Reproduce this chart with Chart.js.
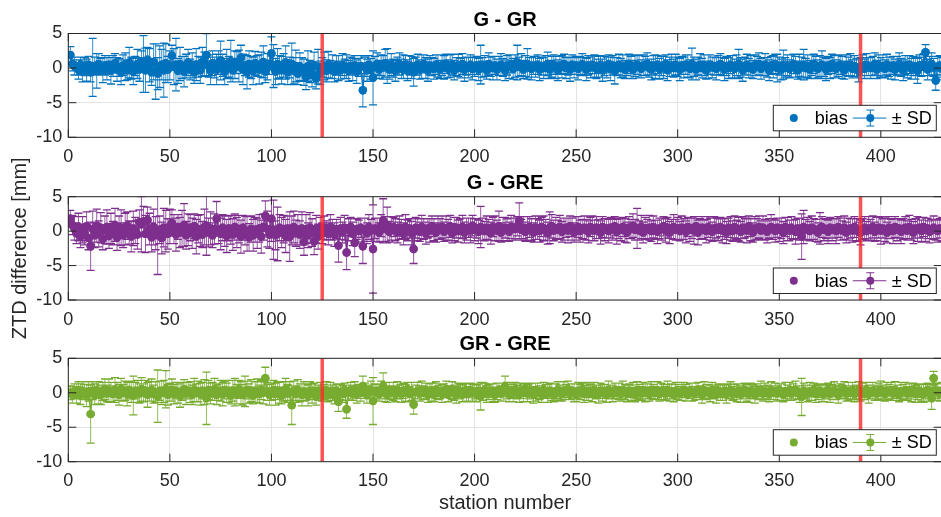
<!DOCTYPE html>
<html>
<head>
<meta charset="utf-8">
<script src="https://cdn.jsdelivr.net/npm/chart.js@4.4.0/dist/chart.umd.min.js"></script>
<style>
  html, body { margin: 0; padding: 0; background: #fff; width: 941px; height: 517px; overflow: hidden; }
  #wrap { position: relative; width: 946px; height: 517px; }
  #wrap canvas { position: absolute; left: 0; top: 0; }
</style>
</head>
<body>
<div id="wrap">
  <canvas id="c1" width="946" height="517"></canvas>
  <canvas id="c2" width="946" height="517"></canvas>
  <canvas id="c3" width="946" height="517"></canvas>
</div>
<script>
// station numbers where the red separators are
const splitStations = [125, 390];

// G - GR : bias and SD per station [mm]
const grBias = [
  1.9, 0.6, 0.3, 0.1, -0.2, 0.4, -0.5, 0.2, -0.3, 0.5, -0.6, 0.1, 0.3, -0.4, 0.6, 0.2, -0.3, 0.4, -0.1, 0.5,
  -0.4, 0.3, 0.7, -0.2, 0.1, -0.6, 0.4, 0.2, -0.3, 0.8, 0.0, -0.5, 0.3, 0.6, -0.2, 1.0, 0.6, -0.3, 1.2, 0.4,
  -0.6, 0.9, -0.5, -0.8, 0.2, 0.5, -0.3, 0.7, -0.2, 0.4, 1.8, 0.2, 0.5, -0.4, 0.6, 0.1, -0.5, 0.3, 0.8, -0.2,
  0.4, -0.6, 0.5, 0.2, -0.3, 0.9, 0.6, 1.9, 0.3, -0.4, 0.7, 0.1, -0.2, 0.8, 1.1, 0.4, -0.5, 0.6, 0.2, 1.0,
  -0.3, 0.5, 0.8, 0.3, 1.5, -0.2, 0.4, -0.6, 0.6, 0.1, -0.4, 0.7, 0.3, -0.2, 0.5, 0.9, -0.5, 0.2, 0.6, 2.1,
  0.3, -0.5, 0.6, 0.2, -0.3, 0.4, 0.8, -0.6, 0.1, 0.6, -0.4, 0.3, -0.8, 0.2, -0.2, -0.6, -1.3, 0.3, -0.5, -0.9,
  0.4, -1.5, 0.2, -0.7, 0.1, 0.3, -0.4, 0.5, -0.2, 0.2, -0.5, 0.4, 0.0, -0.3, 0.5, -0.1, 0.2, -0.4, 0.3, -0.2,
  0.4, -0.5, 0.1, 0.3, -3.2, 0.2, -0.3, 0.5, -0.1, -1.4, 0.3, 0.6, -0.2, 0.4, 0.1, 0.7, 0.3, -0.2, 0.5, 0.0,
  -0.4, 0.3, 0.6, -0.1, 0.2, 0.5, -0.3, 0.4, 0.1, -0.6, 0.3, 0.5, -0.2, 0.2, 0.6, 0.0, -0.3, 0.4, 0.2, -0.1,
  0.5, 0.3, -0.2, 0.4, 0.1, 0.6, -0.1, 0.3, 0.5, -0.3, 0.2, 0.4, 0.0, 0.6, -0.2, 0.3, 0.1, 0.5, -0.1, 0.2,
  0.4, -0.2, 0.5, 0.1, 0.3, -0.3, 0.6, 0.2, 0.0, 0.4, -0.2, 0.3, 0.5, 0.1, -0.3, 0.4, 0.2, 0.6, -0.1, 0.3,
  0.8, 0.2, 0.5, -0.2, 0.3, 0.6, 0.1, -0.1, 0.4, 0.2, 0.5, -0.2, 0.3, 0.0, 0.4, 0.6, -0.2, 0.2, 0.5, 0.1,
  -0.3, 0.4, 0.2, 0.6, 0.0, 0.3, -0.2, 0.5, 0.1, 0.4, -0.1, 0.3, 0.6, 0.2, -0.2, 0.4, 0.1, 0.5, 0.3, -0.1,
  0.2, 0.5, -0.3, 0.3, 0.1, 0.6, -0.1, 0.4, -0.4, 0.2, 0.5, 0.0, 0.3, -0.2, 0.4, 0.6, 0.1, -0.2, 0.3, 0.5,
  0.2, -0.1, 0.4, 0.3, 0.6, 0.0, -0.2, 0.4, 0.2, 0.5, -0.1, 0.3, 0.1, 0.6, -0.3, 0.2, 0.4, 0.0, 0.5, 0.2,
  -0.2, 0.4, 0.1, 0.5, 0.3, -0.1, 0.6, 0.2, -0.2, 0.3, 0.5, 0.0, 0.4, -0.3, 0.2, 0.5, 0.1, 0.3, -0.1, 0.4,
  0.6, 0.2, -0.2, 0.3, 0.0, 0.5, 0.2, -0.1, 0.4, 0.6, 0.1, -0.3, 0.3, 0.5, 0.0, 0.2, -0.2, 0.4, 0.3, 0.6,
  -0.1, 0.2, 0.5, 0.1, -0.3, 0.4, 0.2, 0.6, 0.0, 0.3, -0.2, 0.5, 0.1, 0.4, -0.1, 0.3, 0.6, 0.2, -0.3, 0.4,
  0.1, 0.5, 0.0, 0.3, -0.2, 0.4, 0.6, 0.1, -0.1, 0.3, 0.5, 0.2, -0.2, 0.4, 0.0, 0.6, 0.2, -0.1, 0.3, 0.5,
  0.1, -0.3, 0.4, 0.2, 0.5, -0.1, 0.3, 0.0, -0.4, 0.2, 0.4, -0.1, 0.5, 0.2, 0.0, 0.3, 0.6, -0.2, 0.4, 0.1,
  0.3, -0.1, 0.5, 0.2, 0.0, 0.4, -0.2, 0.3, 0.6, 0.1, -0.3, 0.4, 0.2, 0.5, -0.1, 0.3, 0.0, -0.4, 0.4, 0.2,
  0.5, 2.3, -0.2, 0.3, 0.6, 0.1, -1.8, 0.2, 0.4, -0.1
];
const grSd = [
  1.2, 1.0, 1.3, 1.1, 1.4, 1.2, 1.5, 1.3, 1.6, 1.2, 1.4, 4.2, 1.3, 2.5, 1.5, 1.2, 1.8, 1.4, 1.6, 1.3,
  1.9, 1.5, 1.4, 1.7, 1.3, 1.8, 1.5, 2.0, 1.4, 2.2, 1.6, 1.9, 1.4, 2.1, 1.7, 1.5, 4.1, 3.2, 1.8, 2.4,
  1.9, 2.6, 4.0, 2.3, 3.0, 2.2, 3.9, 2.8, 1.9, 2.1, 1.5, 2.6, 3.8, 1.8, 2.4, 1.6, 2.2, 1.7, 1.9, 1.5,
  1.8, 1.6, 2.3, 1.5, 1.9, 2.1, 1.7, 3.1, 1.6, 2.0, 1.8, 1.5, 2.2, 1.7, 2.8, 1.6, 1.9, 2.1, 1.5, 3.0,
  1.7, 2.0, 1.6, 2.3, 1.8, 2.2, 1.5, 2.4, 1.9, 1.6, 2.0, 1.7, 1.5, 2.1, 1.8, 2.3, 1.6, 1.9, 1.5, 2.4,
  3.1, 1.9, 2.2, 1.6, 2.0, 1.7, 2.4, 1.8, 1.5, 3.0, 1.9, 2.3, 1.6, 2.0, 1.7, 1.9, 1.8, 2.2, 1.6, 1.8,
  1.9, 1.5, 2.5, 1.7, 1.4, 2.0, 1.6, 1.9, 1.3, 1.7, 1.5, 1.4, 1.8, 1.3, 1.6, 1.4, 1.7, 1.5, 1.3, 1.6,
  1.4, 1.7, 1.3, 1.5, 2.4, 1.4, 1.6, 1.3, 1.5, 3.9, 1.4, 1.6, 1.3, 1.5, 1.7, 2.0, 2.5, 1.4, 1.6, 1.3,
  1.5, 1.3, 1.6, 1.4, 1.7, 1.3, 1.5, 1.4, 1.6, 2.0, 1.3, 1.5, 1.4, 1.7, 1.3, 1.5, 1.6, 1.4, 1.3, 1.5,
  1.4, 1.6, 1.3, 1.5, 1.7, 1.4, 1.3, 1.6, 1.5, 1.4, 1.3, 1.6, 1.4, 1.5, 1.7, 1.3, 1.5, 1.4, 1.6, 1.4,
  1.3, 1.6, 2.8, 1.4, 1.5, 1.3, 1.6, 1.4, 1.7, 1.3, 1.5, 1.4, 1.6, 1.3, 1.5, 1.4, 1.7, 1.3, 1.5, 1.6,
  2.5, 1.4, 1.6, 1.3, 1.5, 2.2, 1.4, 1.6, 1.3, 1.5, 1.4, 1.6, 1.3, 1.5, 1.4, 1.7, 1.3, 1.5, 1.4, 1.6,
  1.5, 1.3, 1.6, 1.4, 1.5, 1.3, 1.7, 1.4, 1.5, 1.3, 1.6, 1.4, 1.5, 1.3, 1.6, 1.4, 1.5, 1.3, 1.6, 1.4,
  1.5, 1.3, 1.6, 1.4, 1.5, 1.3, 1.7, 1.4, 1.9, 1.3, 1.5, 1.4, 1.6, 1.3, 1.5, 1.4, 1.6, 1.3, 1.5, 1.4,
  1.6, 1.3, 1.5, 1.4, 1.6, 1.3, 1.5, 1.4, 1.7, 1.3, 1.5, 1.4, 1.6, 1.3, 1.5, 1.4, 1.6, 1.3, 1.5, 1.4,
  1.6, 1.3, 1.5, 1.4, 1.6, 1.3, 2.3, 1.4, 1.5, 1.3, 1.6, 1.4, 1.5, 1.3, 1.7, 1.4, 1.5, 1.3, 1.6, 1.4,
  1.5, 1.3, 1.6, 1.4, 1.5, 1.3, 1.6, 1.4, 1.5, 2.1, 1.4, 1.6, 1.3, 1.5, 1.4, 1.6, 1.3, 1.5, 1.4, 1.6,
  1.5, 1.3, 1.6, 1.4, 1.5, 1.3, 1.6, 1.4, 2.0, 1.3, 1.5, 2.1, 1.4, 1.5, 1.3, 1.6, 1.4, 1.5, 1.3, 1.6,
  1.5, 2.2, 1.4, 1.6, 1.3, 1.5, 1.4, 1.6, 1.3, 1.5, 2.0, 1.4, 1.6, 1.3, 1.5, 1.4, 1.6, 1.3, 1.5, 1.4,
  1.6, 1.3, 1.5, 1.4, 1.6, 1.3, 1.5, 1.4, 1.6, 1.3, 1.5, 1.4, 1.6, 1.3, 1.5, 1.4, 1.6, 1.3, 1.5, 1.4,
  1.6, 1.3, 1.5, 1.4, 1.6, 1.3, 1.5, 1.4, 1.6, 1.3, 1.5, 1.4, 1.6, 1.3, 1.5, 1.4, 1.6, 1.8, 1.5, 1.4,
  1.6, 1.1, 1.5, 1.4, 1.6, 1.3, 1.4, 1.5, 1.4, 1.6
];

// G - GRE
const greBias = [
  1.8, 0.9, 0.4, -0.3, 0.6, -0.8, 0.2, -0.5, 0.7, -1.0, -2.2, 0.3, -0.6, 0.8, -0.4, 0.5, -1.1, 0.2, 0.6, -0.7,
  0.4, -0.3, 0.9, -0.9, 0.1, 0.5, -0.6, 0.3, 0.8, -0.2, -0.8, 0.4, 0.1, -0.5, 1.3, 1.0, 1.4, -0.4, 1.6, 0.3,
  -0.9, 0.6, -0.3, -0.6, 0.2, -1.0, 0.5, 0.0, -0.4, 0.7, 1.2, 0.3, -0.5, 0.6, -0.2, 0.4, 0.9, -0.6, 0.2, 0.5,
  -0.3, 0.7, -0.8, 0.3, 0.1, -0.5, 0.6, 0.8, -0.2, 0.4, -0.6, 0.3, 1.8, 0.2, -0.4, 0.5, 0.0, -0.7, 0.4, 0.2,
  -0.5, 0.6, -0.2, 0.3, -0.8, 0.5, 0.1, -0.4, -0.9, 0.3, -0.6, 0.2, -0.3, 0.4, -0.8, 0.6, 2.2, 0.3, -0.5, 1.8,
  0.2, -0.6, -0.4, 0.5, -0.2, 0.3, -0.7, 0.4, -0.8, 0.1, 0.6, -0.3, 0.2, -0.5, 0.4, -1.6, 0.3, -0.6, 0.5, -0.2,
  -1.5, 0.3, -0.8, 0.4, -0.3, 0.5, 0.1, -0.4, 0.6, 0.2, -0.5, 0.3, -2.1, 0.4, -0.2, 0.5, -3.1, 0.2, 0.6, -0.4,
  -1.7, 0.3, 0.0, 0.5, -2.2, 0.2, -0.3, 0.6, 0.1, -2.6, 0.4, 0.2, -0.2, 0.8, 1.5, 0.3, 0.9, -0.1, 0.4, 0.6,
  0.2, -0.2, 0.5, 0.3, -0.4, 0.6, 0.1, 0.4, -0.3, -2.6, 0.5, 0.2, -0.1, 0.6, 0.3, -0.3, 0.4, 0.1, 0.7, 0.2,
  -0.2, 0.5, 0.3, 0.6, -0.1, 0.4, 0.2, 0.7, -0.3, 0.3, 0.5, 0.0, 0.4, 0.6, -0.2, 0.3, 0.5, 0.1, 0.8, 0.2,
  0.4, -0.1, 0.6, 0.3, 0.0, 0.5, 0.2, -0.3, 0.6, 0.4, 0.1, 0.7, -0.2, 0.3, 0.5, 0.2, -0.1, 0.6, 0.4, 0.3,
  0.7, 1.5, 0.2, 0.5, -0.1, 0.4, 0.6, 0.2, -0.2, 0.5, 0.3, 0.0, 0.6, 0.4, 0.2, -0.3, 0.5, 0.7, 0.1, 0.4,
  0.2, 0.6, -0.1, 0.3, 0.5, 0.1, 0.7, 0.3, -0.2, 0.4, 0.6, 0.0, 0.3, 0.5, 0.2, -0.1, 0.6, 0.4, 0.1, 0.5,
  0.3, -0.2, 0.6, 0.2, 0.4, 0.0, 0.5, 0.3, 0.7, -0.1, 0.4, 0.2, 0.6, 0.1, -0.2, 0.5, 0.3, 0.8, 0.2, 0.4,
  0.1, 0.6, -0.2, 0.4, 0.3, 0.5, 0.0, 0.6, 0.2, -0.1, 0.4, 0.3, 0.7, 0.1, 0.5, -0.2, 0.3, 0.6, 0.2, 0.4,
  0.0, 0.5, 0.3, -0.1, 0.6, 0.2, 0.4, 0.1, 0.7, -0.2, 0.3, 0.5, 0.2, 0.0, 0.6, 0.3, -0.1, 0.4, 0.5, 0.2,
  0.6, 0.1, 0.3, -0.2, 0.5, 0.4, 0.0, 0.6, 0.2, 0.3, -0.1, 0.5, 0.4, 0.1, 0.7, 0.2, -0.2, 0.4, 0.3, 0.6,
  0.1, 0.5, 0.2, -0.1, 0.4, 0.6, 0.3, 0.0, 0.5, 0.2, 0.4, -0.2, 0.6, 0.3, 0.1, 0.5, 0.2, -0.1, 0.4, 0.3,
  -0.8, 0.6, 0.2, 0.4, 0.0, 0.5, 0.3, 0.1, -0.2, 0.4, 0.6, 0.2, 0.3, -0.1, 0.5, 0.2, 0.4, 0.0, 0.6, 0.3,
  0.1, 0.5, -0.2, 0.3, 0.4, 0.1, 0.6, 0.2, -0.1, -0.2, 0.3, 0.5, 0.0, 0.4, 0.2, 0.6, -0.1, 0.3, 0.5, 0.1,
  0.4, 0.2, -0.2, 0.5, 0.3, 0.0, 0.6, 0.2, 0.4, -0.1, 0.3, 0.5, 0.1, 0.6, 0.2, -0.2, 0.4, 0.3, 0.5, 0.0,
  0.6, 0.2, 0.4, -0.1, 0.3, 0.5, 0.2, 0.0, 0.4, 0.3
];
const greSd = [
  1.2, 1.4, 1.7, 1.5, 2.0, 1.6, 1.9, 1.5, 2.1, 1.7, 3.5, 2.6, 1.8, 2.4, 1.9, 2.2, 1.6, 2.0, 2.5, 1.8,
  2.2, 1.7, 2.4, 1.9, 2.1, 2.6, 1.8, 2.3, 2.0, 1.7, 2.2, 2.5, 1.9, 2.1, 1.8, 4.0, 2.2, 2.7, 1.9, 2.3,
  2.1, 2.6, 2.4, 5.7, 2.0, 2.3, 2.8, 3.0, 2.2, 2.5, 1.9, 2.1, 2.4, 1.8, 2.2, 2.6, 3.1, 2.0, 2.3, 1.9,
  2.2, 1.8, 2.5, 2.0, 2.3, 1.9, 2.6, 4.3, 2.1, 2.4, 1.8, 2.2, 2.5, 2.0, 2.3, 1.9, 2.2, 2.4, 1.8, 2.1,
  2.3, 1.9, 2.2, 2.0, 2.4, 1.8, 2.1, 2.5, 2.0, 1.9, 2.3, 1.8, 2.2, 2.0, 2.4, 1.9, 2.2, 2.6, 2.0, 3.3,
  4.3, 2.1, 3.9, 1.9, 2.2, 2.0, 2.4, 1.8, 3.6, 2.1, 2.3, 1.9, 2.2, 2.0, 2.4, 1.9, 2.1, 1.8, 2.2, 2.0,
  1.9, 2.0, 1.8, 1.6, 1.5, 1.7, 1.4, 1.6, 1.8, 1.5, 1.7, 1.4, 2.4, 1.6, 1.5, 1.8, 2.5, 1.6, 1.4, 1.7,
  2.0, 1.5, 1.6, 1.4, 2.5, 1.7, 1.5, 1.8, 1.6, 6.4, 1.5, 1.7, 1.4, 1.6, 3.2, 1.8, 2.6, 1.5, 1.7, 1.4,
  1.6, 1.5, 1.7, 1.4, 1.6, 1.8, 1.5, 1.4, 1.7, 2.1, 1.5, 1.6, 1.4, 1.7, 1.5, 1.6, 1.4, 1.7, 1.5, 1.6,
  1.4, 1.7, 1.5, 1.6, 1.4, 1.8, 1.5, 1.6, 1.4, 1.7, 1.5, 1.6, 1.4, 1.7, 1.5, 1.6, 1.4, 1.8, 1.5, 1.6,
  1.4, 1.7, 3.0, 1.6, 1.4, 1.7, 1.5, 1.6, 1.4, 1.8, 1.5, 2.2, 1.4, 1.7, 1.5, 1.6, 1.4, 1.7, 1.5, 1.6,
  1.4, 2.6, 1.5, 1.6, 1.4, 1.7, 1.5, 1.6, 1.4, 1.7, 1.5, 1.6, 1.4, 1.8, 1.5, 1.6, 2.3, 1.7, 1.5, 1.6,
  1.4, 1.7, 1.5, 1.6, 1.4, 1.8, 1.5, 1.6, 1.4, 1.7, 1.5, 1.6, 1.4, 1.7, 1.5, 1.6, 1.4, 1.8, 1.5, 1.6,
  1.4, 1.7, 1.5, 1.6, 1.4, 1.7, 1.5, 1.6, 1.4, 1.8, 1.5, 1.6, 1.4, 1.7, 1.5, 1.6, 1.4, 1.7, 1.5, 2.9,
  1.4, 1.7, 1.5, 1.6, 1.4, 1.8, 1.5, 1.6, 1.4, 1.7, 1.5, 1.6, 1.4, 1.7, 1.5, 1.6, 1.4, 1.8, 1.5, 1.6,
  1.4, 1.7, 1.5, 1.6, 1.4, 1.7, 1.5, 2.0, 1.4, 1.8, 1.5, 1.6, 1.4, 1.7, 1.5, 1.6, 1.4, 1.7, 1.5, 1.6,
  1.4, 1.8, 1.5, 1.6, 1.4, 1.7, 1.5, 1.6, 1.4, 1.7, 1.5, 1.6, 1.4, 1.8, 1.5, 1.6, 1.4, 1.7, 1.5, 1.6,
  1.4, 1.7, 1.5, 1.6, 1.4, 1.8, 1.5, 1.6, 1.4, 1.7, 1.5, 1.6, 1.4, 1.7, 1.5, 1.6, 1.4, 1.8, 1.5, 1.6,
  3.3, 2.4, 1.5, 1.6, 1.4, 1.7, 1.5, 1.6, 1.4, 2.3, 1.5, 1.6, 1.4, 1.7, 1.5, 1.6, 1.4, 1.8, 1.5, 1.6,
  1.4, 1.7, 1.5, 1.6, 1.4, 1.7, 1.5, 1.6, 1.4, 1.8, 1.5, 1.6, 1.4, 1.7, 1.5, 1.6, 1.4, 1.7, 1.5, 2.0,
  1.4, 1.7, 1.5, 1.6, 1.4, 1.8, 1.5, 1.6, 1.4, 1.7, 1.5, 1.6, 1.4, 1.7, 1.5, 1.6, 1.4, 1.8, 1.5, 1.6,
  1.4, 1.7, 1.5, 1.6, 1.4, 1.7, 1.5, 1.6, 1.4, 1.7
];

// GR - GRE
const grgreBias = [
  0.0, -0.3, 0.2, -0.1, 0.4, -0.2, 0.3, 0.1, -0.4, 0.2, -3.1, 0.3, -0.2, 0.4, 0.0, -0.3, 0.2, 0.5, -0.1, 0.3,
  0.1, -0.2, 0.4, 0.2, -0.3, 0.5, 0.0, 0.3, -0.2, 0.4, 0.1, -0.4, 0.3, 0.2, -0.1, 0.5, 0.0, 0.3, -0.3, 0.2,
  0.4, -0.2, 0.1, -0.5, 0.3, 0.0, 0.2, 0.5, -0.3, 0.1, 0.4, -0.2, 0.3, 0.0, -0.4, 0.2, 0.5, -0.1, 0.3, 0.1,
  -0.3, 0.4, 0.0, 0.2, -0.2, 0.3, 0.1, -0.8, 0.4, -0.1, 0.2, 0.5, -0.3, 0.1, 0.3, -0.2, 0.4, 0.0, 0.2, -0.4,
  0.3, 0.1, -0.2, 0.5, 0.0, -0.3, 0.2, 0.4, -0.1, 0.3, -0.4, 0.1, 0.3, -0.2, 0.4, 0.0, 2.1, 0.2, -0.3, 0.1,
  0.4, -0.2, 0.3, 0.0, -0.4, 0.2, 0.5, -0.1, 0.1, -1.8, 0.3, -0.2, 0.4, 0.0, -0.3, 0.2, 0.1, -0.4, 0.3, -0.1,
  0.2, -0.5, 0.0, 0.3, -0.2, 0.1, 0.4, -0.3, 0.2, 0.0, -0.4, 0.3, -1.3, 0.1, -0.2, 0.4, -2.4, 0.0, 0.3, -0.1,
  0.5, -0.2, 0.2, 0.0, 1.0, 0.3, -0.3, 0.1, 0.4, -1.2, 0.2, 0.0, -0.2, 0.4, 1.0, 0.1, -0.3, 0.3, 0.0, 0.2,
  -0.2, 0.4, 0.1, -0.1, 0.3, 0.0, 0.5, -0.2, 0.2, -1.7, 0.1, 0.3, -0.1, 0.4, 0.0, 0.2, -0.3, 0.3, 0.1, -0.2,
  0.4, 0.0, 0.2, -0.1, 0.3, 0.5, -0.2, 0.1, 0.3, 0.0, -0.3, 0.4, 0.2, -0.1, 0.3, 0.1, -0.2, 0.4, 0.0, 0.2,
  -0.1, 0.3, -0.5, 0.2, 0.4, -0.2, 0.1, 0.3, 0.0, -0.3, 0.2, 0.4, -0.1, 0.1, 0.9, 0.3, -0.2, 0.2, 0.0, 0.4,
  0.1, -0.2, 0.3, 0.0, 0.5, -0.1, 0.2, 0.4, -0.3, 0.1, 0.3, 0.0, -0.2, 0.4, 0.2, -0.1, 0.3, 0.1, -0.3, 0.2,
  0.4, 0.0, -0.2, 0.3, 0.1, 0.5, -0.1, 0.2, 0.0, -0.3, 0.3, 0.1, 0.4, -0.2, 0.2, 0.0, 0.3, -0.1, 0.4, 0.1,
  -0.2, 0.3, 0.0, 0.2, -0.3, 0.4, 0.1, -0.1, 0.3, 0.0, 0.2, -0.2, 0.4, 0.1, -0.1, 0.3, 0.0, 0.2, -0.3, 0.4,
  0.1, -0.1, 0.3, 0.0, 0.2, -0.2, 0.4, 0.1, 0.0, 0.3, -0.2, 0.2, 0.1, -0.1, 0.4, 0.0, 0.2, -0.3, 0.3, 0.1,
  -0.1, 0.2, 0.4, 0.0, -0.2, 0.3, 0.1, -0.1, 0.2, 0.4, 0.0, -0.3, 0.3, 0.1, 0.2, -0.1, 0.4, 0.0, -0.2, 0.3,
  0.1, 0.0, 0.3, -0.2, 0.2, 0.4, -0.1, 0.1, 0.0, 0.3, -0.2, 0.2, 0.4, 0.0, -0.1, 0.3, 0.1, -0.3, 0.2, 0.0,
  0.4, -0.1, 0.2, 0.1, -0.2, 0.3, 0.0, 0.2, -0.1, 0.4, 0.1, -0.3, 0.2, 0.0, 0.3, -0.1, 0.2, 0.4, 0.0, -0.2,
  -0.6, 0.3, 0.1, -0.1, 0.2, 0.0, 0.4, -0.2, 0.1, 0.3, 0.0, -0.1, 0.2, 0.4, -0.2, 0.1, 0.3, 0.0, -0.3, 0.2,
  0.1, 0.4, -0.1, 0.2, 0.0, 0.3, -0.2, 0.1, 0.3, -0.1, 0.2, 0.0, 0.4, -0.2, 0.1, 0.3, 0.0, -0.1, 0.2, 0.4,
  0.0, -0.2, 0.3, 0.1, 0.2, -0.1, 0.4, 0.0, -0.3, 0.2, 0.1, 0.3, -0.1, 0.2, 0.0, 0.4, -0.2, 0.1, 0.3, 0.0,
  -0.1, 0.2, 0.4, 0.0, -0.8, 2.1, 0.3, 0.1, -0.2, 0.2
];
const grgreSd = [
  1.0, 1.2, 1.1, 1.4, 1.2, 1.5, 1.3, 1.1, 1.6, 1.4, 4.2, 1.3, 1.5, 1.2, 1.6, 1.4, 1.3, 1.5, 1.2, 1.7,
  1.4, 1.2, 1.8, 1.3, 1.5, 1.6, 1.2, 1.4, 1.7, 1.3, 1.5, 2.8, 1.2, 1.6, 1.4, 1.7, 1.3, 1.5, 1.8, 1.4,
  1.6, 1.3, 1.5, 3.8, 1.4, 1.7, 1.6, 2.7, 1.5, 1.3, 1.6, 1.4, 1.2, 1.5, 1.7, 1.3, 1.4, 1.6, 1.2, 1.5,
  1.4, 1.7, 1.3, 1.5, 1.6, 1.2, 1.8, 3.8, 1.4, 1.5, 1.3, 1.6, 1.4, 1.2, 1.5, 1.7, 1.3, 1.4, 1.6, 1.2,
  1.5, 2.0, 1.4, 1.3, 1.6, 1.5, 2.2, 1.3, 1.4, 1.6, 1.2, 1.5, 1.7, 1.3, 1.4, 1.6, 1.6, 1.3, 1.5, 1.2,
  1.4, 1.6, 1.3, 1.5, 1.2, 1.4, 1.6, 1.3, 1.5, 2.8, 1.4, 1.2, 1.5, 1.3, 1.6, 1.4, 1.2, 1.5, 1.3, 1.4,
  1.2, 1.3, 1.1, 1.2, 1.0, 1.1, 1.2, 1.0, 1.3, 1.1, 1.2, 1.0, 1.4, 1.1, 1.2, 1.0, 1.3, 1.1, 1.2, 1.0,
  1.1, 1.3, 1.0, 1.2, 1.4, 1.1, 1.2, 1.0, 1.3, 3.4, 1.1, 1.2, 1.0, 1.3, 1.9, 1.4, 1.1, 1.2, 1.0, 1.3,
  1.1, 1.2, 1.0, 1.3, 1.1, 1.2, 1.0, 1.1, 1.3, 1.4, 1.0, 1.2, 1.1, 1.3, 1.0, 1.2, 1.1, 1.0, 1.3, 1.1,
  1.2, 1.0, 1.1, 1.3, 1.0, 1.2, 1.1, 0.9, 1.3, 1.1, 1.2, 1.0, 1.1, 1.2, 1.0, 1.3, 1.1, 1.0, 1.2, 1.1,
  1.2, 1.0, 2.0, 1.3, 1.0, 1.2, 1.1, 1.0, 1.3, 1.1, 1.2, 1.0, 1.1, 1.3, 1.5, 1.2, 1.1, 1.0, 1.3, 1.1,
  1.0, 1.2, 1.1, 1.3, 0.9, 1.2, 1.1, 1.0, 1.2, 1.3, 1.1, 1.0, 1.2, 1.1, 1.0, 1.3, 1.1, 1.2, 1.0, 1.1,
  1.2, 1.1, 1.0, 1.3, 1.1, 1.2, 0.9, 1.1, 1.3, 1.0, 1.2, 1.1, 1.0, 1.2, 1.3, 1.1, 1.0, 1.2, 1.1, 1.0,
  1.3, 1.1, 1.2, 1.0, 1.1, 1.3, 1.0, 1.2, 1.1, 0.9, 1.2, 1.0, 1.3, 1.1, 1.2, 1.0, 1.1, 1.3, 1.0, 1.2,
  1.1, 1.0, 1.2, 1.3, 1.1, 1.0, 1.2, 1.1, 0.9, 1.3, 1.0, 1.2, 1.1, 1.0, 1.3, 1.2, 1.1, 1.0, 1.2, 1.1,
  1.0, 1.3, 1.1, 1.2, 1.0, 1.1, 1.3, 1.0, 1.2, 1.1, 1.0, 1.2, 1.3, 1.1, 1.0, 1.2, 1.1, 0.9, 1.3, 1.0,
  1.2, 1.1, 1.0, 1.3, 1.1, 1.2, 1.0, 1.1, 1.3, 1.0, 1.2, 1.1, 1.0, 1.2, 1.3, 1.1, 1.0, 1.2, 1.1, 1.0,
  1.3, 1.1, 1.2, 1.0, 1.1, 1.3, 1.0, 1.2, 1.1, 0.9, 1.2, 1.0, 1.3, 1.1, 1.2, 1.0, 1.1, 1.3, 1.0, 1.2,
  2.7, 1.1, 1.0, 1.2, 1.3, 1.1, 1.0, 1.2, 1.1, 1.0, 1.3, 1.2, 1.1, 1.0, 1.2, 1.1, 1.3, 1.0, 1.2, 1.1,
  1.0, 1.2, 1.1, 1.3, 1.0, 1.2, 1.1, 1.0, 1.3, 1.1, 1.2, 1.0, 1.1, 1.3, 1.0, 1.2, 1.1, 1.0, 1.2, 1.3,
  1.1, 1.0, 1.2, 1.1, 1.3, 1.0, 1.2, 1.1, 1.0, 1.3, 1.1, 1.2, 1.0, 1.1, 1.3, 1.0, 1.2, 1.1, 1.0, 1.2,
  1.3, 1.1, 1.0, 1.2, 1.6, 1.0, 1.1, 1.2, 1.0, 1.3
];

const FONT = "'Liberation Sans', Arial, Helvetica, sans-serif";
const AXIS_COLOR = "#262626";
Chart.defaults.font.family = FONT;
Chart.defaults.color = AXIS_COLOR;

// error bars (vertical line + caps) drawn through the chart scales
const errorBars = {
  id: "errorBars",
  beforeDatasetsDraw(chart) {
    const { ctx, chartArea: a, scales: { x, y } } = chart;
    chart.data.datasets.forEach(ds => {
      if (!ds.sd) return;
      ctx.save();
      ctx.beginPath();
      ctx.rect(a.left, a.top, a.right - a.left, a.bottom - a.top);
      ctx.clip();
      const segs = ds.data.map((p, i) => ({
        px: x.getPixelForValue(p.x),
        hi: y.getPixelForValue(p.y + ds.sd[i]),
        lo: y.getPixelForValue(p.y - ds.sd[i])
      }));
      ctx.lineWidth = 1;
      ctx.strokeStyle = `rgba(${ds.rgb},0.8)`;
      ctx.beginPath();
      segs.forEach(s => { ctx.moveTo(s.px, s.hi); ctx.lineTo(s.px, s.lo); });
      ctx.stroke();
      ctx.strokeStyle = `rgb(${ds.rgb})`;
      ctx.lineWidth = 1.3;
      ctx.beginPath();
      segs.forEach(s => {
        ctx.moveTo(s.px - 4, s.hi); ctx.lineTo(s.px + 4, s.hi);
        ctx.moveTo(s.px - 4, s.lo); ctx.lineTo(s.px + 4, s.lo);
      });
      ctx.stroke();
      ctx.restore();
    });
  }
};

// MATLAB-like frame with inward ticks, title, legend box
const frame = {
  id: "frame",
  afterDraw(chart) {
    const { ctx, chartArea: a, scales: { x, y } } = chart;
    const opts = chart.options.plugins.frame;
    ctx.save();
    ctx.strokeStyle = AXIS_COLOR;
    ctx.lineWidth = 1;
    ctx.strokeRect(a.left, a.top, a.right - a.left, a.bottom - a.top);
    ctx.beginPath();
    x.ticks.forEach(t => {
      const px = x.getPixelForValue(t.value);
      ctx.moveTo(px, a.top); ctx.lineTo(px, a.top + 8);
      ctx.moveTo(px, a.bottom); ctx.lineTo(px, a.bottom - 8);
    });
    y.ticks.forEach(t => {
      const py = y.getPixelForValue(t.value);
      ctx.moveTo(a.left, py); ctx.lineTo(a.left + 8, py);
      ctx.moveTo(a.right, py); ctx.lineTo(a.right - 8, py);
    });
    ctx.stroke();

    // title
    ctx.fillStyle = "#000";
    ctx.font = `bold 20px ${FONT}`;
    ctx.textAlign = "center";
    ctx.textBaseline = "middle";
    ctx.fillText(opts.title, (a.left + a.right) / 2, a.top - 13.5);

    // y label (only on the middle panel)
    if (opts.yLabel) {
      ctx.save();
      ctx.translate(20, (a.top + a.bottom) / 2);
      ctx.rotate(-Math.PI / 2);
      ctx.font = `20px ${FONT}`;
      ctx.fillStyle = AXIS_COLOR;
      ctx.fillText(opts.yLabel, 0, 0);
      ctx.restore();
    }

    // legend
    const col = opts.color;
    const right = a.right - 5.5, left = right - 163;
    const bottom = a.bottom - 6.5, top = bottom - 25.5;
    const cy = (top + bottom) / 2;
    ctx.fillStyle = "#fff";
    ctx.fillRect(left, top, right - left, bottom - top);
    ctx.strokeStyle = AXIS_COLOR;
    ctx.strokeRect(left, top, right - left, bottom - top);
    ctx.fillStyle = col;
    ctx.beginPath(); ctx.arc(left + 20.5, cy, 4, 0, Math.PI * 2); ctx.fill();
    ctx.beginPath(); ctx.arc(left + 97, cy, 4, 0, Math.PI * 2); ctx.fill();
    ctx.strokeStyle = col;
    ctx.beginPath();
    ctx.moveTo(left + 79.5, cy); ctx.lineTo(left + 113, cy);
    ctx.moveTo(left + 97, cy - 8); ctx.lineTo(left + 97, cy + 8);
    ctx.moveTo(left + 93, cy - 8); ctx.lineTo(left + 101, cy - 8);
    ctx.moveTo(left + 93, cy + 8); ctx.lineTo(left + 101, cy + 8);
    ctx.stroke();
    ctx.fillStyle = "#000";
    ctx.font = `18px ${FONT}`;
    ctx.textAlign = "left";
    ctx.fillText("bias", left + 41.5, cy + 1);
    ctx.fillText("\u00B1 SD", left + 118.5, cy + 1);
    ctx.restore();
  }
};

const panels = [
  { id: "c1", title: "G - GR", bias: grBias, sd: grSd, color: "#0072BD", rgb: "0,114,189", top: 33.5, bottom: 137.3 },
  { id: "c2", title: "G - GRE", bias: greBias, sd: greSd, color: "#7E2F8E", rgb: "126,47,142", top: 196.7, bottom: 300, yLabel: "ZTD difference [mm]" },
  { id: "c3", title: "GR - GRE", bias: grgreBias, sd: grgreSd, color: "#77AC30", rgb: "119,172,48", top: 358.3, bottom: 461.7, xLabel: "station number" }
];

panels.forEach(p => {
  const points = p.bias.map((b, i) => ({ x: i + 1, y: b }));
  const xHeight = p.xLabel ? 517 - p.bottom : 30;
  const separators = splitStations.map(s => ({
    data: [{ x: s, y: -10 }, { x: s, y: 5 }],
    showLine: true,
    borderColor: "rgba(255,40,40,0.8)",
    borderWidth: 3.5,
    pointRadius: 0,
    order: 0
  }));
  new Chart(document.getElementById(p.id), {
    type: "scatter",
    data: {
      datasets: [
        ...separators,
        {
          label: "bias",
          data: points,
          pointRadius: 4.2,
          pointBackgroundColor: p.color,
          pointBorderWidth: 0,
          order: 1
        },
        {
          label: "\u00B1 SD",
          data: points,
          sd: p.sd,
          rgb: p.rgb,
          showLine: true,
          borderColor: p.color,
          borderWidth: 1.3,
          pointRadius: 4.2,
          pointBackgroundColor: p.color,
          pointBorderWidth: 0,
          order: 2
        }
      ]
    },
    options: {
      responsive: false,
      animation: false,
      events: [],
      layout: { padding: { top: p.top, bottom: 517 - p.bottom - xHeight, left: 0, right: 0 } },
      scales: {
        x: {
          type: "linear",
          min: 0,
          max: 430,
          afterFit: s => { s.height = xHeight; },
          ticks: { stepSize: 50, includeBounds: false, padding: 9, font: { size: 18 }, color: AXIS_COLOR, maxRotation: 0 },
          grid: { color: "#e3e3e3", drawTicks: false },
          border: { display: false },
          title: { display: !!p.xLabel, text: p.xLabel || "", font: { size: 20 }, color: AXIS_COLOR, padding: { top: 0, bottom: 2 } }
        },
        y: {
          min: -10,
          max: 5,
          afterFit: s => { s.width = 68.3; },
          ticks: { stepSize: 5, padding: 6, font: { size: 18 }, color: AXIS_COLOR },
          grid: { color: "#e3e3e3", drawTicks: false },
          border: { display: false }
        }
      },
      plugins: {
        legend: { display: false },
        tooltip: { enabled: false },
        frame: { title: p.title, color: p.color, yLabel: p.yLabel }
      }
    },
    plugins: [errorBars, frame]
  });
});
</script>
</body>
</html>
